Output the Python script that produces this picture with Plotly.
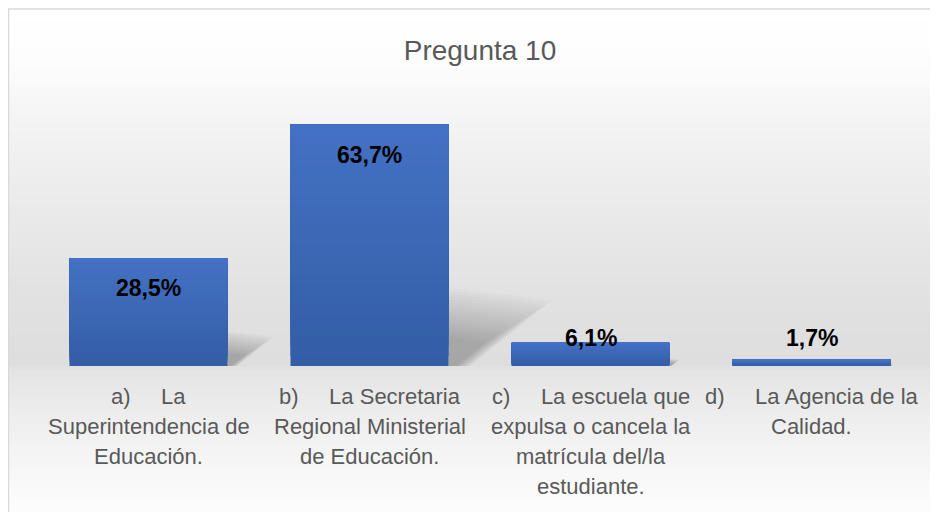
import plotly.graph_objects as go

# ---- data ----
title = "Pregunta 10"
categories = ["a", "b", "c", "d"]
values = [28.5, 63.7, 6.1, 1.7]
value_labels = ["28,5%", "63,7%", "6,1%", "1,7%"]
NB = "\u00a0" * 5
label_lines = [
    ["a)" + NB + "La", "Superintendencia de", "Educación."],
    ["b)" + NB + "La Secretaria", "Regional Ministerial", "de Educación."],
    ["c)" + NB + "La escuela que", "expulsa o cancela la", "matrícula del/la", "estudiante."],
    ["d)" + NB + "La Agencia de la", "Calidad."],
]

# ---- layout constants (page body has an 8px margin) ----
OFF = 8
W, H = 938 - OFF, 512 - OFF
ML, MR, MT, MB = 38 - OFF, 16, 101 - OFF, 146
PW, PH = W - ML - MR, H - MT - MB
YMAX = 70
PXY = PH / YMAX          # px per y unit
PXX = PW / 4             # px per category
BAR_W = 0.715
FONT = "Liberation Sans"

xs = list(range(len(categories)))

fig = go.Figure()

# gradient bars (overlayed slices, bottom -> top colour)
top_c = (68, 114, 196)
bot_c = (51, 93, 166)
N = 24
for k in range(N):
    t = k / N
    col = tuple(round(bot_c[j] + (top_c[j] - bot_c[j]) * t) for j in range(3))
    fig.add_trace(go.Bar(
        x=xs, y=[v * (1 - t) for v in values], base=[v * t for v in values],
        width=BAR_W, marker=dict(color="rgb(%d,%d,%d)" % col, line=dict(width=0)),
        showlegend=False, hoverinfo="skip"))

shapes = []
# window pixel -> paper coords
def wy(py):
    return (H - MB - (py - OFF)) / PH
def wx(px):
    return ((px - OFF) - ML) / PW

stops = [(9, 255), (60, 253), (120, 244), (200, 235), (300, 225), (366, 222),
         (369, 228), (430, 240), (470, 247), (512, 253)]
def shade(py):
    for (a, ca), (b, cb) in zip(stops, stops[1:]):
        if a <= py <= b:
            return ca + (cb - ca) * (py - a) / (b - a)
    return 255
step = 3
py = 9
while py < 512:
    c = round(shade(py + step / 2))
    shapes.append(dict(type="rect", xref="paper", yref="paper",
                       x0=wx(8), x1=wx(940), y0=wy(py + step + 0.5), y1=wy(py),
                       fillcolor="rgb(%d,%d,%d)" % (c, c, c), line=dict(width=0), layer="below"))
    py += step

# border (top and left)
shapes.append(dict(type="line", xref="paper", yref="paper", x0=wx(8), x1=wx(940),
                   y0=wy(9), y1=wy(9), line=dict(color="#D9D9D9", width=1.5), layer="below"))
shapes.append(dict(type="line", xref="paper", yref="paper", x0=wx(8.5), x1=wx(8.5),
                   y0=wy(9), y1=wy(514), line=dict(color="#D9D9D9", width=1.5), layer="below"))

# soft shadows to the right of bars (stack of translucent wedges = blur)
layers = [(1.30 - 0.05 * i, 0.022) for i in range(18)]
for x, v in zip(xs, values):
    xr = x + BAR_W / 2
    hpx = v * PXY
    for s, op in layers:
        tipx = xr + 0.33 * hpx * s / PXX
        botx = xr + 0.07 * hpx * s / PXX
        path = "M %f,0 L %f,%f L %f,%f L %f,0 Z" % (
            xr, xr, 0.25 * v * s, tipx, 0.21 * v * s, botx)
        shapes.append(dict(type="path", xref="x", yref="y", path=path,
                           fillcolor="rgba(80,80,80,%f)" % op, line=dict(width=0), layer="below"))

annotations = []
# value labels
for x, v, lab in zip(xs, values, value_labels):
    shift = max(v * PXY - 30, 28)
    annotations.append(dict(x=x, y=0, xref="x", yref="y", text="<b>%s</b>" % lab,
                            showarrow=False, yshift=shift, yanchor="middle",
                            font=dict(family=FONT, size=23, color="#000000")))
# category labels, one annotation per line
for x, lines in zip(xs, label_lines):
    for i, line in enumerate(lines):
        annotations.append(dict(x=x, y=0, xref="x", yref="paper", text=line,
                                showarrow=False, yanchor="middle", yshift=-(30 + 30 * i),
                                font=dict(family=FONT, size=22, color="#595959")))

fig.update_layout(
    width=W, height=H,
    margin=dict(l=ML, r=MR, t=MT, b=MB),
    paper_bgcolor="white", plot_bgcolor="rgba(0,0,0,0)",
    barmode="overlay",
    title=dict(text=title, x=(480 - OFF) / W, xanchor="center", y=1 - (50 - OFF) / H,
               yanchor="middle", yref="container",
               font=dict(family=FONT, size=28, color="#595959")),
    xaxis=dict(range=[-0.5, 3.5], visible=False, fixedrange=True),
    yaxis=dict(range=[0, YMAX], visible=False, fixedrange=True),
    shapes=shapes, annotations=annotations,
)

fig.write_html("out.html")
